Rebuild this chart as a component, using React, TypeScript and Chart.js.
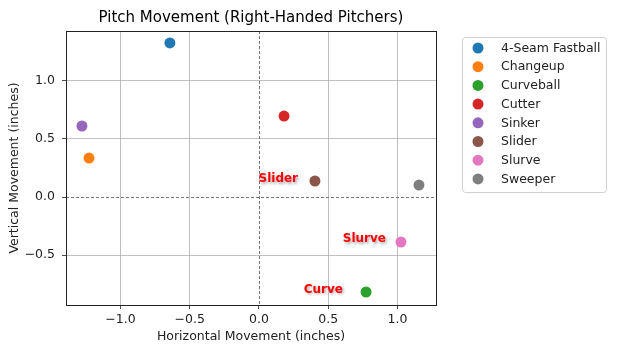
import React, { useEffect, useRef } from "react";
import { Chart, registerables } from "chart.js";

Chart.register(...registerables);

const pitchNames = ["4-Seam Fastball", "Changeup", "Curveball", "Cutter", "Sinker", "Slider", "Slurve", "Sweeper"];
const horizontalMove = [-0.643, -1.227, 0.773, 0.181, -1.278, 0.404, 1.025, 1.155];
const verticalMove = [1.328, 0.336, -0.819, 0.698, 0.612, 0.138, -0.388, 0.103];
const pitchColors = ["#1f77b4", "#ff7f0e", "#2ca02c", "#d62728", "#9467bd", "#8c564b", "#e377c2", "#7f7f7f"];

const labelTexts = ["Slider", "Slurve", "Curve"];
const labelX = [0.282, 0.917, 0.606];
const labelY = [0.155, -0.362, -0.8];

const xTicks = [-1.0, -0.5, 0.0, 0.5, 1.0];
const yTicks = [-0.5, 0.0, 0.5, 1.0];

const FONT = "'DejaVu Sans', sans-serif";
const fmt = (v: number) => v.toFixed(1).replace("-", "\u2212");

export default function App() {
  const ref = useRef<HTMLCanvasElement | null>(null);

  useEffect(() => {
    if (!ref.current) return;

    const framePlugin = {
      id: "frameAndExtras",
      beforeDatasetsDraw(chart: any) {
        const { ctx, chartArea, scales } = chart;
        ctx.save();
        ctx.strokeStyle = "#666";
        ctx.lineWidth = 0.9;
        ctx.setLineDash([3, 2]);
        const x0 = Math.round(scales.x.getPixelForValue(0)) + 0.5;
        const y0 = Math.round(scales.y.getPixelForValue(0)) + 0.5;
        ctx.beginPath();
        ctx.moveTo(x0, chartArea.top);
        ctx.lineTo(x0, chartArea.bottom);
        ctx.moveTo(chartArea.left, y0);
        ctx.lineTo(chartArea.right, y0);
        ctx.stroke();
        ctx.restore();
      },
      afterDatasetsDraw(chart: any) {
        const { ctx, chartArea, scales } = chart;
        ctx.save();
        // frame
        ctx.strokeStyle = "#222";
        ctx.lineWidth = 1;
        ctx.setLineDash([]);
        ctx.strokeRect(
          Math.round(chartArea.left) + 0.5,
          Math.round(chartArea.top) + 0.5,
          Math.round(chartArea.right - chartArea.left),
          Math.round(chartArea.bottom - chartArea.top)
        );
        // title
        ctx.fillStyle = "#000";
        ctx.font = `15px ${FONT}`;
        ctx.textAlign = "center";
        ctx.textBaseline = "middle";
        ctx.fillText("Pitch Movement (Right-Handed Pitchers)", (chartArea.left + chartArea.right) / 2, 18);
        // annotations
        ctx.font = `bold 12px ${FONT}`;
        ctx.textAlign = "right";
        ctx.fillStyle = "#ff0000";
        ctx.shadowColor = "rgba(0,0,0,0.35)";
        ctx.shadowBlur = 3;
        ctx.shadowOffsetX = 1.5;
        ctx.shadowOffsetY = 1.5;
        labelTexts.forEach((t, i) => {
          ctx.fillText(t, scales.x.getPixelForValue(labelX[i]), scales.y.getPixelForValue(labelY[i]));
        });
        ctx.shadowColor = "transparent";
        ctx.shadowBlur = 0;
        ctx.shadowOffsetX = 0;
        ctx.shadowOffsetY = 0;
        // legend
        const lx = chartArea.right + 26;
        const ly = 37;
        const lw = 144;
        const lh = 155;
        ctx.fillStyle = "rgba(255,255,255,0.8)";
        ctx.strokeStyle = "#d0d0d0";
        ctx.lineWidth = 1;
        ctx.beginPath();
        (ctx as any).roundRect(lx + 0.5, ly + 0.5, lw, lh, 3);
        ctx.fill();
        ctx.stroke();
        ctx.font = `12.5px ${FONT}`;
        ctx.textAlign = "left";
        ctx.textBaseline = "middle";
        pitchNames.forEach((name, i) => {
          const cy = ly + 11 + i * 18.7;
          ctx.fillStyle = pitchColors[i];
          ctx.beginPath();
          ctx.arc(lx + 16, cy, 5.5, 0, Math.PI * 2);
          ctx.fill();
          ctx.fillStyle = "#222";
          ctx.fillText(name, lx + 39, cy + 0.5);
        });
        ctx.restore();
      },
    };

    const chart = new Chart(ref.current, {
      type: "scatter",
      data: {
        datasets: pitchNames.map((name, i) => ({
          label: name,
          data: [{ x: horizontalMove[i], y: verticalMove[i] }],
          backgroundColor: pitchColors[i],
          borderColor: pitchColors[i],
          borderWidth: 0,
          pointRadius: 5.5,
        })),
      },
      options: {
        responsive: false,
        animation: false,
        devicePixelRatio: 1,
        layout: { padding: { left: 0, top: 31, right: 182, bottom: 0 } },
        plugins: {
          legend: { display: false },
          title: { display: false },
          tooltip: { enabled: false },
        },
        scales: {
          x: {
            type: "linear",
            min: -1.393,
            max: 1.278,
            afterBuildTicks: (s: any) => {
              s.ticks = xTicks.map((v) => ({ value: v }));
            },
            afterFit: (s: any) => {
              s.height = 47;
            },
            border: { display: false },
            grid: {
              color: (c: any) => (c.tick && c.tick.value === 0 ? "rgba(0,0,0,0)" : "#b0b0b0"),
              lineWidth: 0.8,
              tickColor: "#222",
              tickLength: 4,
            },
            ticks: {
              color: "#222",
              font: { family: FONT, size: 12.5 },
              padding: 3,
              maxRotation: 0,
              callback: (v: any) => fmt(Number(v)),
            },
            title: {
              display: true,
              text: "Horizontal Movement (inches)",
              color: "#222",
              font: { family: FONT, size: 12.5 },
              padding: { top: 2, bottom: 7.5 },
            },
          },
          y: {
            type: "linear",
            min: -0.931,
            max: 1.431,
            afterBuildTicks: (s: any) => {
              s.ticks = yTicks.map((v) => ({ value: v }));
            },
            afterFit: (s: any) => {
              s.width = 66;
            },
            border: { display: false },
            grid: {
              color: (c: any) => (c.tick && c.tick.value === 0 ? "rgba(0,0,0,0)" : "#b0b0b0"),
              lineWidth: 0.8,
              tickColor: "#222",
              tickLength: 4,
            },
            ticks: {
              color: "#222",
              font: { family: FONT, size: 12.5 },
              padding: 7,
              callback: (v: any) => fmt(Number(v)),
            },
            title: {
              display: true,
              text: "Vertical Movement (inches)",
              color: "#222",
              font: { family: FONT, size: 12.5 },
              padding: { top: 7.5, bottom: 2 },
            },
          },
        },
      },
      plugins: [framePlugin],
    } as any);

    return () => chart.destroy();
  }, []);

  return (
    <div style={{ position: "fixed", left: 0, top: 0, width: 618, height: 352, background: "#fff" }}>
      <canvas ref={ref} width={618} height={352} style={{ display: "block" }} />
    </div>
  );
}
